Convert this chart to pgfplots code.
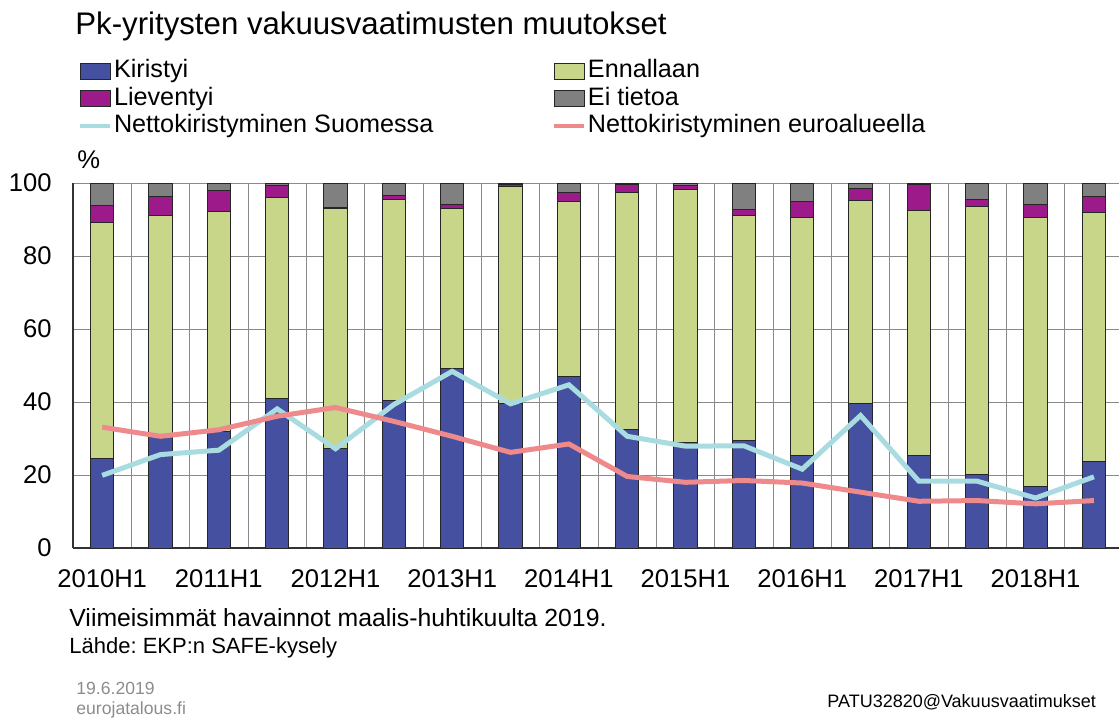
\documentclass[border=0pt]{standalone}
\usepackage{fontspec}
\setmainfont{Liberation Sans}
\usepackage{pgfplots}
\usepackage{pgfplotstable}
\pgfplotsset{compat=1.18}
\frenchspacing
\definecolor{kir}{HTML}{4650A0}
\definecolor{enn}{HTML}{C8D68A}
\definecolor{liev}{HTML}{9C1A8A}
\definecolor{eitie}{HTML}{808080}
\definecolor{fiblue}{HTML}{A8DCE0}
\definecolor{eapink}{HTML}{EF8A8C}
\definecolor{gridc}{HTML}{8A8A8A}
\definecolor{datec}{HTML}{8C8C8C}

\pgfplotsset{
  barleg/.style={legend image code/.code={\draw[##1] (0pt,-4pt) rectangle (15pt,4pt);}},
  frame/.style={at={(36.5pt,-274pt)}, anchor=south west,
    scale only axis, width=523pt, height=182.5pt,
    xmin=-0.5, xmax=17.43, ymin=0, ymax=100},
}

% x = half-year index (0 = 2010H1), columns in % of respondents
\pgfplotstableread{
x  kir  enn  liev  ei   fi   ea
0  24.4 64.9 4.5  6.2  19.9 33.1
1  30.6 60.5 5.2  3.7  25.6 30.6
2  32.0 60.2 5.8  2.0  26.8 32.4
3  41.0 54.9 3.5  0.6  38.1 36.1
4  27.3 65.6 0.3  6.8  27.2 38.5
5  40.4 55.0 1.1  3.5  39.3 34.7
6  49.1 43.8 1.1  6.0  48.4 30.6
7  39.7 59.4 0.4  0.5  39.5 26.2
8  47.0 47.8 2.6  2.6  44.7 28.5
9  32.6 64.8 2.1  0.5  30.6 19.6
10 28.8 69.4 1.2  0.6  27.9 18.0
11 29.4 61.7 1.6  7.3  28.0 18.5
12 25.4 65.2 4.4  5.0  21.6 17.8
13 39.5 55.8 3.3  1.4  36.3 15.3
14 25.3 67.2 7.0  0.5  18.3 12.8
15 20.1 73.5 2.0  4.4  18.3 13.0
16 16.9 73.7 3.5  5.9  13.7 12.1
17 23.6 68.4 4.3  3.7  19.5 13.0
}\safe

\newcommand\tickfont{\fontsize{12.8}{14}\selectfont}

\begin{document}
\begin{tikzpicture}[x=0.5pt,y=-0.5pt]
\useasboundingbox (0,0) rectangle (1119,722);
\begin{axis}[
  frame,
  ybar stacked, bar width=0.4,
  axis x line*=bottom, axis y line*=left,
  axis line style={draw=black!80, line width=0.6pt},
  xtick={0,2,...,16},
  xticklabels={2010H1,2011H1,2012H1,2013H1,2014H1,2015H1,2016H1,2017H1,2018H1},
  minor xtick={0.5,1.5,...,16.5},
  ytick={0,20,...,100},
  ymajorgrids, xminorgrids,
  grid style={draw=gridc, line width=0.5pt},
  minor grid style={draw=gridc, line width=0.5pt},
  major tick length=0pt, minor tick length=0pt,
  tick style={draw=none},
  /pgf/number format/assume math mode=true,
  ticklabel style={font=\tickfont},
  yticklabel style={anchor=east, inner sep=0pt, xshift=-10.5pt},
  xticklabel style={anchor=north, inner sep=0pt, yshift=-10.5pt},
  legend columns=2,
  legend style={at={(axis description cs:0.0048,1.342)}, anchor=north west,
    draw=none, fill=none, inner sep=0pt, row sep=1.3pt,
    font=\fontsize{12.6}{13.5}\selectfont,
    nodes={inner xsep=1pt, inner ysep=0pt, text height=9.5pt, text depth=3pt},
    /tikz/every even column/.append style={column sep=58.5pt}},
  legend cell align=left,
]
\addplot[barleg, fill=kir, draw=black!85, line width=0.5pt] table[x=x,y=kir]{\safe};
\addlegendentry{Kiristyi}
\addplot[barleg, fill=enn, draw=black!85, line width=0.5pt] table[x=x,y=enn]{\safe};
\addlegendentry{Ennallaan}
\addplot[barleg, fill=liev, draw=black!85, line width=0.5pt] table[x=x,y=liev]{\safe};
\addlegendentry{Lieventyi}
\addplot[barleg, fill=eitie, draw=black!85, line width=0.5pt] table[x=x,y=ei]{\safe};
\addlegendentry{Ei tietoa}
\addlegendimage{legend image code/.code={\draw[fiblue, line width=1.8pt] (0pt,0pt) -- (15pt,0pt);}}
\addlegendentry{Nettokiristyminen Suomessa}
\addlegendimage{legend image code/.code={\draw[eapink, line width=1.8pt] (0pt,0pt) -- (15pt,0pt);}}
\addlegendentry{Nettokiristyminen euroalueella}
\end{axis}
% net tightening lines, drawn over the bars
\begin{axis}[frame, hide axis]
\addplot[sharp plot, no markers, draw=fiblue, line width=2.5pt] table[x=x,y=fi]{\safe};
\addplot[sharp plot, no markers, draw=eapink, line width=2.5pt] table[x=x,y=ea]{\safe};
\end{axis}
\node[anchor=base west, inner sep=0pt, font=\fontsize{15.6}{18}\selectfont] at (75,35) {Pk-yritysten vakuusvaatimusten muutokset};
\node[anchor=base west, inner sep=0pt, font=\tickfont] at (77,169) {\%};
\node[anchor=base west, inner sep=0pt, font=\fontsize{12.4}{14}\selectfont] at (69,626) {Viimeisimmät havainnot maalis-huhtikuulta 2019.};
\node[anchor=base west, inner sep=0pt, font=\fontsize{11}{13}\selectfont] at (69,653) {Lähde: EKP:n SAFE-kysely};
\node[anchor=base west, inner sep=0pt, text=datec, font=\fontsize{8.8}{10}\selectfont] at (76,694) {19.6.2019};
\node[anchor=base west, inner sep=0pt, text=datec, font=\fontsize{8.8}{10}\selectfont] at (76,714) {eurojatalous.fi};
\node[anchor=base west, inner sep=0pt, font=\fontsize{9.0}{11}\selectfont] at (827,707) {PATU32820@Vakuusvaatimukset};
\end{tikzpicture}
\end{document}
